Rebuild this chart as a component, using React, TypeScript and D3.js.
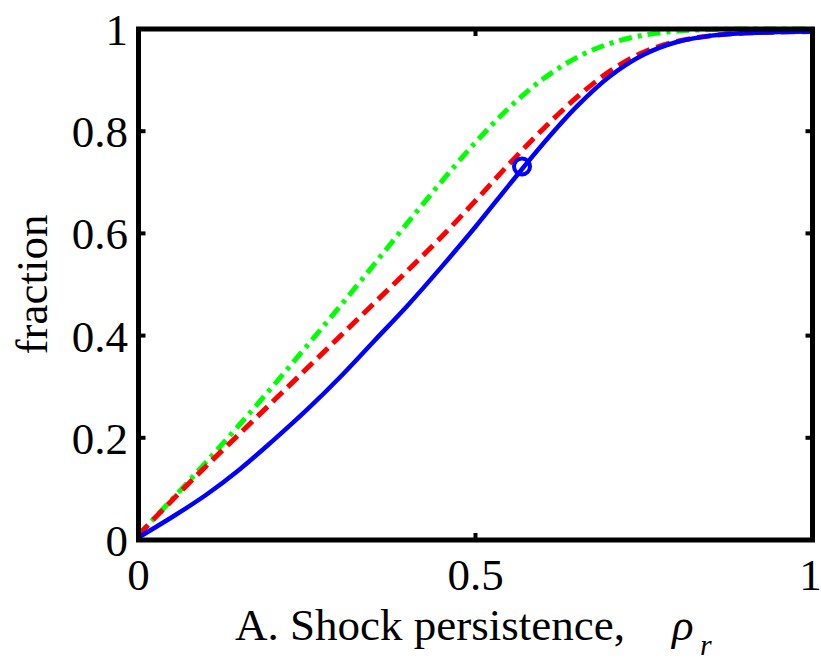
import React from "react";
import * as d3 from "d3";

const xTicks = [0, 0.5, 1];
const xTickLabels = ["0", "0.5", "1"];
const yTicks = [0, 0.2, 0.4, 0.6, 0.8, 1];
const yTickLabels = ["0", "0.2", "0.4", "0.6", "0.8", "1"];

const rhoGrid = [0, 0.05, 0.1, 0.15, 0.2, 0.25, 0.3, 0.35, 0.4, 0.45, 0.5, 0.55, 0.6, 0.65, 0.7, 0.75, 0.8, 0.85, 0.9, 0.95, 1.0];

const blueY = [0.005, 0.045, 0.088, 0.138, 0.195, 0.255, 0.32, 0.39, 0.46, 0.535, 0.613, 0.695, 0.775, 0.848, 0.908, 0.95, 0.975, 0.987, 0.992, 0.994, 0.995];
const redY = [0.01, 0.078, 0.144, 0.208, 0.272, 0.336, 0.4, 0.464, 0.528, 0.594, 0.664, 0.736, 0.804, 0.866, 0.918, 0.955, 0.976, 0.987, 0.992, 0.994, 0.995];
const greenY = [0.01, 0.08, 0.152, 0.226, 0.302, 0.38, 0.459, 0.54, 0.622, 0.702, 0.778, 0.846, 0.902, 0.944, 0.972, 0.988, 0.996, 0.999, 1.0, 1.0, 1.0];

const markerX = [0.569];
const markerY = [0.731];

export default function App() {
  const width = 821;
  const height = 662;
  const x = d3.scaleLinear().domain([0, 1]).range([138.5, 812.5]);
  const y = d3.scaleLinear().domain([0, 1]).range([540, 29]);
  const line = d3
    .line<[number, number]>()
    .x((d) => x(d[0]))
    .y((d) => y(d[1]))
    .curve(d3.curveCatmullRom.alpha(0.5));

  const mk = (xs: number[], ys: number[]) => xs.map((v, i) => [v, ys[i]] as [number, number]);
  const font = "'Liberation Serif', 'Times New Roman', serif";
  const fs = 45;
  const tickLen = 7;

  return (
    <svg width={width} height={height} style={{ position: "absolute", left: 0, top: 0, background: "#fff" }}>
      <rect x={0} y={0} width={width} height={height} fill="#fff" />
      <path d={line(mk(rhoGrid, greenY)) || ""} fill="none" stroke="#00FF00" strokeWidth={5} strokeDasharray="13 6 4 6" />
      <path d={line(mk(rhoGrid, redY)) || ""} fill="none" stroke="#FF0000" strokeWidth={5} strokeDasharray="14 7" />
      <path d={line(mk(rhoGrid, blueY)) || ""} fill="none" stroke="#0000FF" strokeWidth={4.5} />
      {markerX.map((v, i) => (
        <circle key={i} cx={x(v)} cy={y(markerY[i])} r={8} fill="none" stroke="#0000FF" strokeWidth={4} />
      ))}
      <rect x={x(0)} y={y(1)} width={x(1) - x(0)} height={y(0) - y(1)} fill="none" stroke="#000" strokeWidth={5} />
      {xTicks.map((t, i) => (
        <g key={"xt" + i}>
          <line x1={x(t)} x2={x(t)} y1={y(0)} y2={y(0) - tickLen} stroke="#000" strokeWidth={4} />
          <line x1={x(t)} x2={x(t)} y1={y(1)} y2={y(1) + tickLen} stroke="#000" strokeWidth={4} />
          <text x={i === xTicks.length - 1 ? x(t) - 2 : x(t)} y={590} textAnchor="middle" fontFamily={font} fontSize={fs} fill="#000">
            {xTickLabels[i]}
          </text>
        </g>
      ))}
      {yTicks.map((t, i) => (
        <g key={"yt" + i}>
          <line x1={x(0)} x2={x(0) + tickLen} y1={y(t)} y2={y(t)} stroke="#000" strokeWidth={4} />
          <line x1={x(1)} x2={x(1) - tickLen} y1={y(t)} y2={y(t)} stroke="#000" strokeWidth={4} />
          <text x={128} y={y(t) + 16} textAnchor="end" fontFamily={font} fontSize={fs} fill="#000">
            {yTickLabels[i]}
          </text>
        </g>
      ))}
      <text x={235} y={640} fontFamily={font} fontSize={fs} fill="#000">
        A. Shock persistence,
      </text>
      <text x={672} y={640} fontFamily={font} fontSize={fs} fontStyle="italic" fill="#000">
        ρ
      </text>
      <text x={700} y={655} fontFamily={font} fontSize={30} fontStyle="italic" fill="#000">
        r
      </text>
      <text
        transform={`translate(47, ${(y(0) + y(1)) / 2}) rotate(-90)`}
        textAnchor="middle"
        fontFamily={font}
        fontSize={fs}
        fill="#000"
      >
        fraction
      </text>
    </svg>
  );
}
